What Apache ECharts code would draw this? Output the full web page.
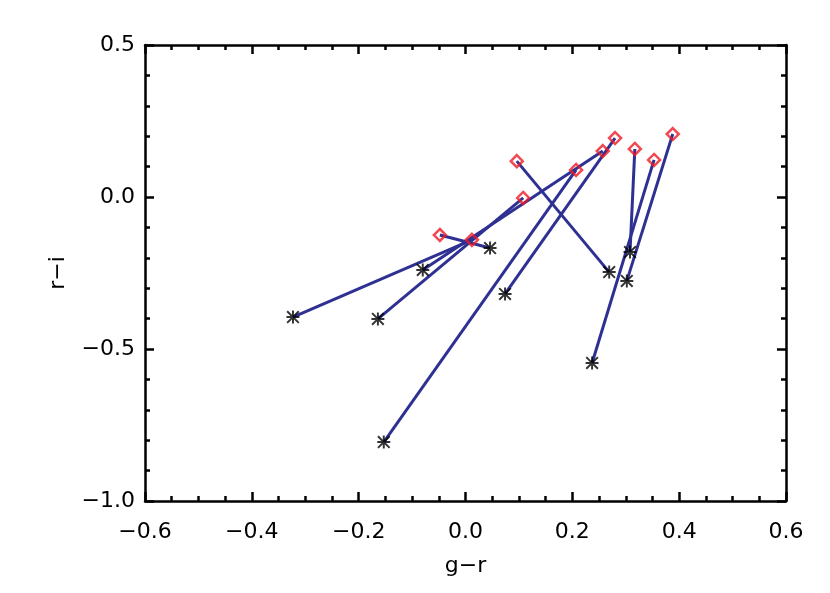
<!DOCTYPE html>
<html>
<head>
<meta charset="utf-8">
<script src="https://cdn.jsdelivr.net/npm/echarts@6/dist/echarts.min.js"></script>
<style>
html,body{margin:0;padding:0;background:#fff;}
#chart{width:830px;height:593px;}
</style>
</head>
<body>
<div id="chart"></div>
<script>
// Start points (red diamonds): g-r, r-i
var diamondX = [-0.048, 0.012, 0.108, 0.096, 0.207, 0.257, 0.280, 0.317, 0.353, 0.388];
var diamondY = [-0.125, -0.141, -0.003, 0.118, 0.089, 0.151, 0.194, 0.158, 0.122, 0.207];
// End points (black asterisks)
var starX = [0.046, -0.323, -0.164, 0.269, -0.153, -0.080, 0.074, 0.308, 0.237, 0.302];
var starY = [-0.168, -0.395, -0.401, -0.247, -0.806, -0.240, -0.319, -0.181, -0.546, -0.276];

var xTicks = [-0.6, -0.4, -0.2, 0.0, 0.2, 0.4, 0.6];
var yTicks = [-1.0, -0.5, 0.0, 0.5];

var FONT = 'DejaVu Sans';
function fmt(v){ return v.toFixed(1).replace('-', '\u2212'); }

var asterisk = 'path://M8.5 0L11.5 0L11.5 20L8.5 20Z M0 8.5L20 8.5L20 11.5L0 11.5Z M0 2.1L2.1 0L20 17.9L17.9 20Z M17.9 0L20 2.1L2.1 20L0 17.9Z';

var series = [];
for (var i = 0; i < diamondX.length; i++) {
  series.push({
    type: 'line',
    data: [[diamondX[i], diamondY[i]], [starX[i], starY[i]]],
    showSymbol: false,
    symbol: 'none',
    silent: true,
    z: 2,
    lineStyle: {color: '#2e3192', width: 3}
  });
}
series.push({
  type: 'scatter',
  data: starX.map(function(x, i){ return [x, starY[i]]; }),
  symbol: asterisk,
  symbolSize: 13,
  z: 3,
  itemStyle: {color: '#000'}
});
series.push({
  type: 'scatter',
  data: diamondX.map(function(x, i){ return [x, diamondY[i]]; }),
  symbol: 'diamond',
  symbolSize: 12,
  z: 4,
  itemStyle: {color: 'rgba(255,255,255,0)', borderColor: '#ee1c25', borderWidth: 2.5}
});

var axisLineStyle = {show: true, onZero: false, lineStyle: {color: '#000', width: 2.5}};
var chart = echarts.init(document.getElementById('chart'), null, {renderer: 'canvas'});
chart.setOption({
  backgroundColor: '#fff',
  animation: false,
  grid: {left: 145, right: 44, top: 45, bottom: 92},
  xAxis: [{
    type: 'value', min: xTicks[0], max: xTicks[xTicks.length-1], interval: 0.2,
    position: 'bottom',
    name: 'g\u2212r', nameLocation: 'middle', nameGap: 54,
    nameTextStyle: {fontFamily: FONT, fontSize: 22, color: '#000'},
    axisLine: axisLineStyle,
    axisTick: {show: true, inside: true, length: 9, lineStyle: {color: '#000', width: 2.5}},
    minorTick: {show: true, splitNumber: 4, length: 5, lineStyle: {color: '#000', width: 2.5}},
    axisLabel: {fontFamily: FONT, fontSize: 22, color: '#000', margin: 20, formatter: fmt},
    splitLine: {show: false}
  }, {
    type: 'value', min: xTicks[0], max: xTicks[xTicks.length-1], interval: 0.2,
    position: 'top',
    axisLine: axisLineStyle,
    axisTick: {show: true, inside: true, length: 9, lineStyle: {color: '#000', width: 2.5}},
    minorTick: {show: true, splitNumber: 4, length: 5, lineStyle: {color: '#000', width: 2.5}},
    axisLabel: {show: false},
    splitLine: {show: false}
  }],
  yAxis: [{
    type: 'value', min: yTicks[0], max: yTicks[yTicks.length-1], interval: 0.5,
    position: 'left',
    name: 'r\u2212i', nameLocation: 'middle', nameGap: 76,
    nameTextStyle: {fontFamily: FONT, fontSize: 22, color: '#000'},
    axisLine: axisLineStyle,
    axisTick: {show: true, inside: true, length: 9, lineStyle: {color: '#000', width: 2.5}},
    minorTick: {show: true, splitNumber: 5, length: 5, lineStyle: {color: '#000', width: 2.5}},
    axisLabel: {fontFamily: FONT, fontSize: 22, color: '#000', margin: 10, formatter: fmt},
    splitLine: {show: false}
  }, {
    type: 'value', min: yTicks[0], max: yTicks[yTicks.length-1], interval: 0.5,
    position: 'right',
    axisLine: axisLineStyle,
    axisTick: {show: true, inside: true, length: 9, lineStyle: {color: '#000', width: 2.5}},
    minorTick: {show: true, splitNumber: 5, length: 5, lineStyle: {color: '#000', width: 2.5}},
    axisLabel: {show: false},
    splitLine: {show: false}
  }],
  series: series
});
</script>
</body>
</html>
